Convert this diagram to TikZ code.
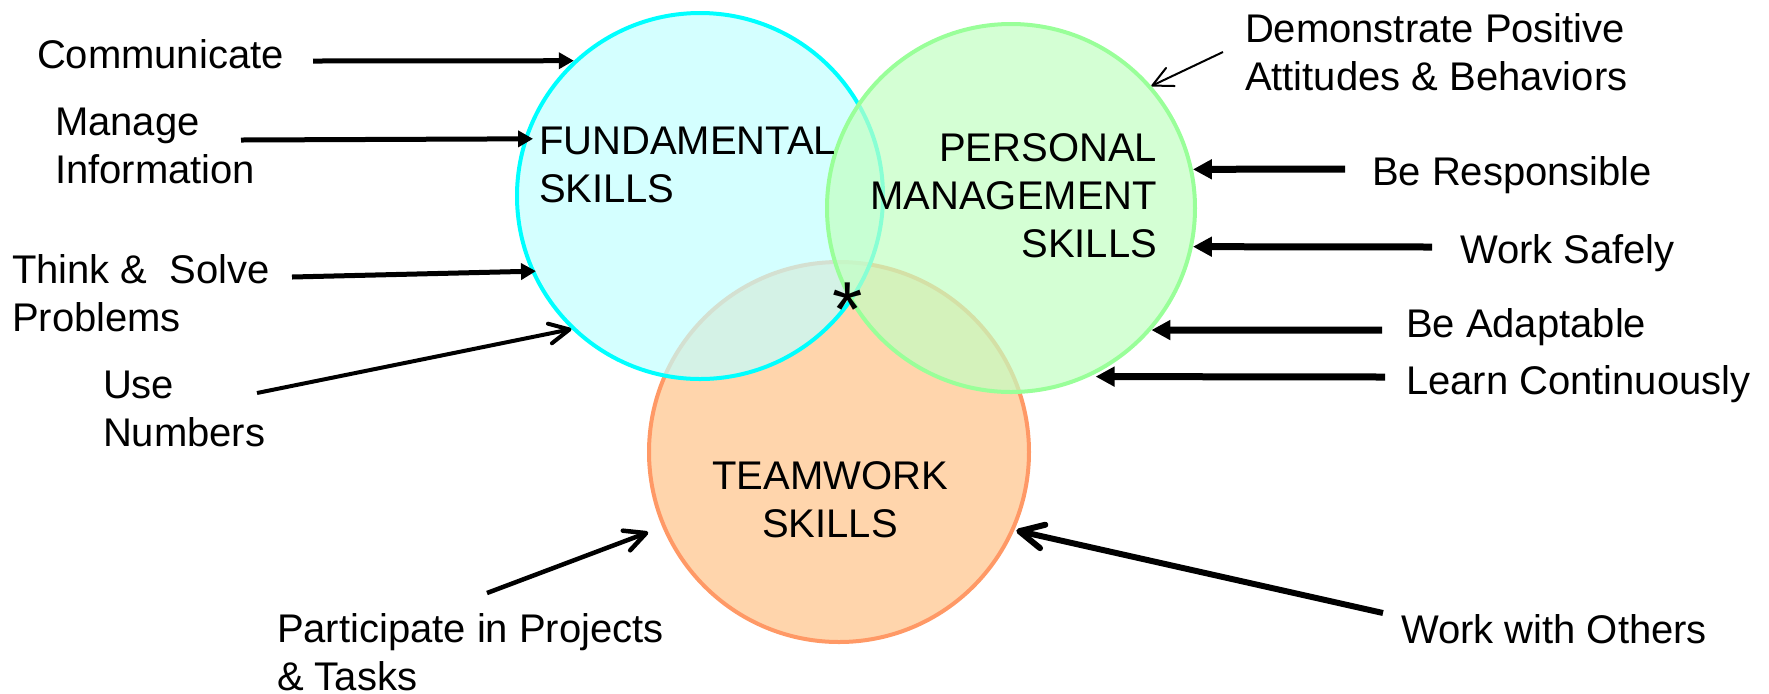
\documentclass[tikz,border=0pt]{standalone}
\usepackage{fontspec}
\setmainfont{Liberation Sans}
\usetikzlibrary{arrows.meta}
\definecolor{cyanfill}{RGB}{194,255,255}
\definecolor{greenfill}{RGB}{194,255,194}
\definecolor{orangefill}{RGB}{255,213,172}
\definecolor{cyanline}{RGB}{0,255,255}
\definecolor{greenline}{RGB}{153,255,153}
\definecolor{orangeline}{RGB}{255,153,102}
\newcommand{\mlines}[2]{\begin{tabular}[t]{@{}#1@{}}#2\end{tabular}}
\begin{document}
\begin{tikzpicture}[x=0.5pt,y=-0.5pt,
  txt/.style={inner sep=0pt, outer sep=0pt, font=\fontsize{20pt}{24pt}\selectfont},
  venn/.style={circle, line width=2pt, inner sep=0pt},
  lefthead/.style={line width=2.5pt, -{Triangle[length=7.5pt,width=8pt]}},
  righthead/.style={line width=3.5pt, -{Triangle[length=9.5pt,width=9.5pt]}},
  barb/.style={-{Straight Barb[length=#1,width=#1,round]}}
]
\useasboundingbox (0,0) rectangle (1769,693);

% circles (orange below, then cyan, then green)
\node[venn, fill=orangefill, draw=orangeline, minimum size=190pt] (teamc) at (839,452) {};
\node[venn, fill=cyanfill, fill opacity=0.7, draw=cyanline, minimum size=183pt] (fundc) at (700,196) {};
\node[venn, fill=greenfill, fill opacity=0.7, draw=greenline, minimum size=184pt] (persc) at (1011,208) {};

% circle labels
\node[txt, anchor=base west] (fund) at (539,154) {\mlines{l}{FUNDAMENTAL\\SKILLS}};
\node[txt, anchor=base east] (pers) at (1157,161) {\mlines{r}{PERSONAL\\MANAGEMENT\\SKILLS}};
\node[txt, anchor=base] (team) at (830,489) {\mlines{c}{TEAMWORK\\SKILLS}};
\node[inner sep=0pt, anchor=base, font=\fontsize{39pt}{39pt}\selectfont] (star) at (848,336) {*};

% left labels
\node[txt, anchor=base west] (comm) at (37,68) {Communicate};
\node[txt, anchor=base west] (maninfo) at (55,135) {\mlines{l}{Manage\\Information}};
\node[txt, anchor=base west] (think) at (12,283) {\mlines{l}{Think \& \ Solve\\Problems}};
\node[txt, anchor=base west] (usenum) at (103,398) {\mlines{l}{Use\\Numbers}};
\node[txt, anchor=base west] (part) at (277,642) {\mlines{l}{Participate in Projects\\\& Tasks}};

% right labels
\node[txt, anchor=base west] (demo) at (1245,42) {\mlines{l}{Demonstrate Positive\\Attitudes \& Behaviors}};
\node[txt, anchor=base west] (resp) at (1372,185) {Be Responsible};
\node[txt, anchor=base west] (safe) at (1460,263) {Work Safely};
\node[txt, anchor=base west] (adapt) at (1406,337) {Be Adaptable};
\node[txt, anchor=base west] (learn) at (1406,394) {Learn Continuously};
\node[txt, anchor=base west] (others) at (1401,643) {Work with Others};

% arrow tails
\coordinate (commT) at (313,61);
\coordinate (manT) at (241,140);
\coordinate (thinkT) at (292,277);
\coordinate (useT) at (257,393);
\coordinate (partT) at (487,593);
\coordinate (demoT) at (1223,52);
\coordinate (respT) at (1345,169);
\coordinate (safeT) at (1432,247);
\coordinate (adaptT) at (1382,330);
\coordinate (learnT) at (1385,377);
\coordinate (othersT) at (1383,613);

% connectors
\draw[lefthead] (commT) -- (fundc.133);
\draw[lefthead, shorten >=-4.5pt] (manT) -- (fundc.162);
\draw[lefthead, shorten >=-2.5pt] (thinkT) -- (fundc.204);
\draw[line width=2pt, barb=10pt] (useT) -- (fundc.226);
\draw[line width=2.25pt, barb=10.5pt, shorten >=7.5pt] (partT) -- (teamc.203);
\draw[line width=1pt, barb=10pt] (demoT) -- (persc.41);
\draw[righthead] (respT) -- (persc.12);
\draw[righthead] (safeT) -- (persc.-12);
\draw[righthead] (adaptT) -- (persc.-41);
\draw[righthead, shorten >=3pt] (learnT) -- (persc.-65);
\draw[line width=3pt, barb=12pt, shorten >=1pt] (othersT) -- (teamc.-24);
\end{tikzpicture}
\end{document}
